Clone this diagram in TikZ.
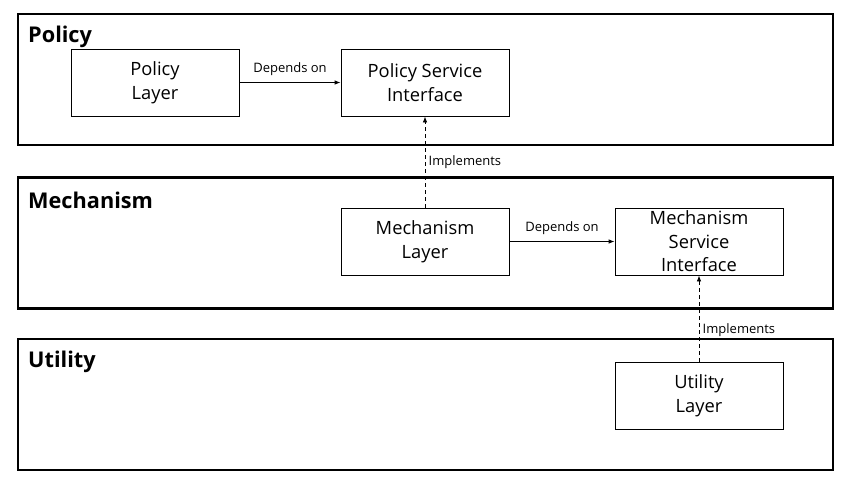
\documentclass[tikz,border=0pt]{standalone}
\usepackage{fontspec}
\setmainfont{Open Sans}
\usetikzlibrary{arrows.meta}
\begin{document}
\begin{tikzpicture}[x=1pt,y=-1pt,
  layer/.style={draw,line width=2.6pt,minimum width=815pt,minimum height=131pt,inner sep=0pt},
  title/.style={anchor=west,font=\fontsize{21.7}{25}\selectfont\bfseries,inner sep=0pt},
  box/.style={draw,line width=0.8pt,minimum width=168pt,minimum height=67pt,align=center,font=\fontsize{18.3}{23.5}\selectfont,inner sep=0pt},
  dep/.style={-{Latex[length=6pt,width=4.5pt]},line width=0.8pt},
  impl/.style={dep,dash pattern=on 4pt off 3pt},
  lbl/.style={font=\fontsize{13}{15}\selectfont}]
\useasboundingbox (0,0) rectangle (854,490);
\foreach \n/\y/\t in {pol/79.5/Policy,mech/243/Mechanism,util/404.5/Utility}{
   \node[layer] (\n) at (425.5,\y) {};
   \node[title] (\n-title) at (28,\y-43) {\t};
}
\node[box] (polLayer) at (155,82.5) {Policy\\Layer};
\node[box] (polSI) at (425,82.5) {Policy Service\\Interface};
\node[box] (mechLayer) at (425,241.5) {Mechanism\\Layer};
\node[box] (mechSI) at (699,241.5) {Mechanism\\Service\\Interface};
\node[box] (utilLayer) at (699,395.5) {Utility\\Layer};
\draw[dep] (polLayer) -- node[lbl,above=3pt] {Depends on} (polSI);
\draw[impl] (mechLayer) -- node[lbl,right] {Implements} (polSI);
\draw[dep] (mechLayer) -- node[lbl,above=3pt] {Depends on} (mechSI);
\draw[impl] (utilLayer) -- node[lbl,right,pos=0.37] {Implements} (mechSI);
\end{tikzpicture}
\end{document}
